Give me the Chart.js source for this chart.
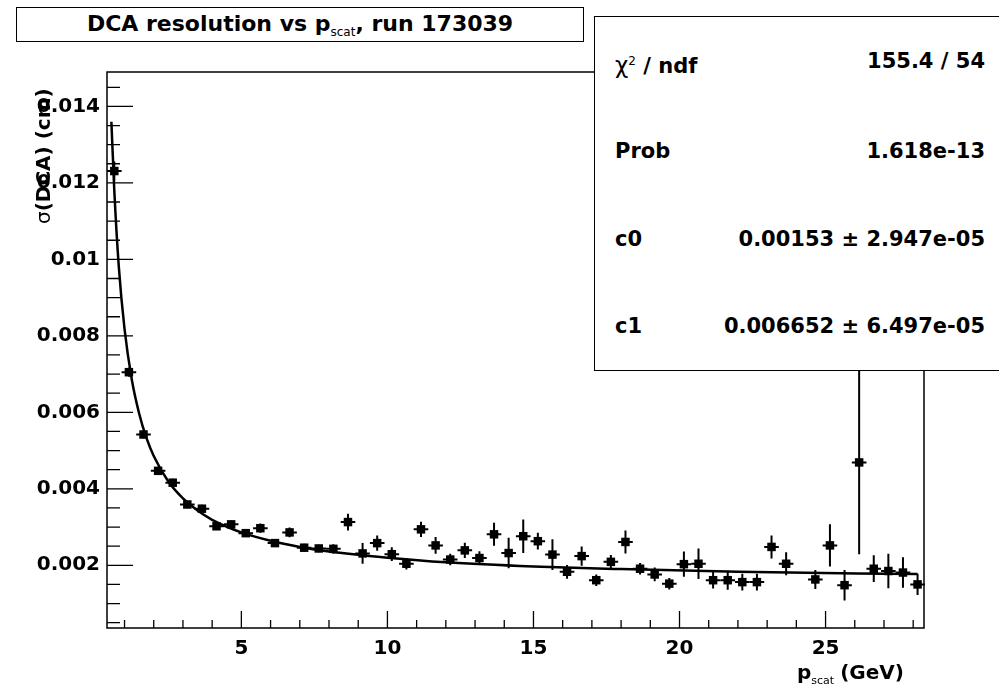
<!DOCTYPE html>
<html>
<head>
<meta charset="utf-8">
<script src="https://cdn.jsdelivr.net/npm/chart.js@4.4.1/dist/chart.umd.min.js"></script>
<style>
  body { margin: 0; background: #fff; }
  #wrap { position: relative; width: 999px; height: 687px; overflow: hidden; }
  #myChart { position: absolute; left: 0; top: 0; }
  .pave { position: absolute; background: #fff; border: 1.5px solid #000; box-sizing: border-box;
          font-family: "DejaVu Sans", sans-serif; font-weight: bold; color: #000; }
  #title { left: 16px; top: 7px; width: 568px; height: 35px; font-size: 22px; text-align: center; line-height: 31px; }
  #title sub { font-size: 12px; vertical-align: -5px; font-weight: normal; }
  #stats { left: 594px; top: 16px; width: 420px; height: 355px; font-size: 21px; }
  .row { position: absolute; left: 20px; width: 370px; height: 26px; line-height: 26px; }
  .row .v { position: absolute; right: 0; top: 0; }
  .row sup { font-size: 12px; vertical-align: 8px; font-weight: normal; }
  .chi { font-weight: normal; font-size: 23px; }
</style>
</head>
<body>
<div id="wrap">
  <canvas id="myChart" width="999" height="687"></canvas>
  <div class="pave" id="title">DCA resolution vs p<sub>scat</sub>, run 173039</div>
  <div class="pave" id="stats">
    <div class="row" style="top:31px"><span><span class="chi">&chi;</span><sup>2</sup> / ndf</span><span class="v">155.4 / 54</span></div>
    <div class="row" style="top:121px"><span>Prob</span><span class="v">1.618e-13</span></div>
    <div class="row" style="top:209px"><span>c0</span><span class="v">0.00153 &plusmn; 2.947e-05</span></div>
    <div class="row" style="top:296px"><span>c1</span><span class="v">0.006652 &plusmn; 6.497e-05</span></div>
  </div>
</div>
<script>
// bin centres (GeV) and measured DCA width (cm)
const pScat = [0.65, 1.15, 1.65, 2.15, 2.65, 3.15, 3.65, 4.15, 4.65, 5.15,
  5.65, 6.15, 6.65, 7.15, 7.65, 8.15, 8.65, 9.15, 9.65, 10.15,
  10.65, 11.15, 11.65, 12.15, 12.65, 13.15, 13.65, 14.15, 14.65, 15.15,
  15.65, 16.15, 16.65, 17.15, 17.65, 18.15, 18.65, 19.15, 19.65, 20.15,
  20.65, 21.15, 21.65, 22.15, 22.65, 23.15, 23.65, 24.15, 24.65, 25.15,
  25.65, 26.15, 26.65, 27.15, 27.65, 28.15];
const sigmaDca = [0.01231, 0.00705, 0.00542, 0.00447, 0.00416, 0.00359, 0.00348, 0.00302, 0.00307, 0.00284,
  0.00297, 0.00258, 0.00286, 0.00246, 0.00244, 0.00243, 0.00313, 0.00231, 0.00258, 0.00229,
  0.00204, 0.00294, 0.00252, 0.00215, 0.00239, 0.00219, 0.00281, 0.00232, 0.00276, 0.00263,
  0.00228, 0.00183, 0.00224, 0.00161, 0.00209, 0.00261, 0.00191, 0.00176, 0.00152, 0.00203,
  0.00204, 0.00161, 0.00161, 0.00156, 0.00156, 0.00248, 0.00204, null, 0.00163, 0.00252,
  0.00148, 0.00469, 0.00191, 0.00185, 0.00181, 0.00150];
const sigmaErr = [0.00025, 0.00012, 0.0001, 0.0001, 0.0001, 0.0001, 0.0001, 0.0001, 0.0001, 0.0001,
  0.00012, 0.0001, 0.00013, 0.0001, 0.0001, 0.00012, 0.00022, 0.00027, 0.0002, 0.00018,
  0.00015, 0.0002, 0.00022, 0.00015, 0.0002, 0.00018, 0.0003, 0.0004, 0.00044, 0.00022,
  0.0004, 0.00018, 0.00025, 0.00015, 0.00018, 0.0003, 0.00015, 0.00018, 0.00015, 0.00033,
  0.0004, 0.00022, 0.00025, 0.00022, 0.00022, 0.0003, 0.0003, null, 0.00025, 0.00055,
  0.0004, 0.0024, 0.00035, 0.00045, 0.0004, 0.00028];
const binHalfWidth = 0.25;

// fit curve
const fitP = [0.55, 0.65, 0.8, 1.0, 1.25, 1.5, 1.75, 2.0, 2.5, 3.0, 3.5, 4.0, 5.0, 6.0, 7.0, 8.0, 10, 12, 15, 18, 22, 28.15];
const fitSigma = [0.0136, 0.0118, 0.00985, 0.00818, 0.00685, 0.00597, 0.00533, 0.00486, 0.00419, 0.00375, 0.00343, 0.00319,
  0.00286, 0.00264, 0.00248, 0.00236, 0.0022, 0.00208, 0.00197, 0.0019, 0.00183, 0.00177];

const xTicks = [5, 10, 15, 20, 25];
const yTicks = [0.002, 0.004, 0.006, 0.008, 0.01, 0.012, 0.014];
const yTickLabels = ["0.002", "0.004", "0.006", "0.008", "0.01", "0.012", "0.014"];

const FONT = "DejaVu Sans";

const points = pScat.map((p, i) => ({ x: p, y: sigmaDca[i], e: sigmaErr[i] })).filter(d => d.y !== null);
const fitLine = fitP.map((p, i) => ({ x: p, y: fitSigma[i] }));

// ROOT style frame, inward ticks, error bars and axis titles
const rootFrame = {
  id: "rootFrame",
  beforeDatasetsDraw(chart) {
    const { ctx, scales: { x, y } } = chart;
    ctx.save();
    ctx.strokeStyle = "#000";
    ctx.lineWidth = 2;
    points.forEach(d => {
      const px = x.getPixelForValue(d.x), py = y.getPixelForValue(d.y);
      ctx.beginPath();
      ctx.moveTo(x.getPixelForValue(d.x - binHalfWidth), py);
      ctx.lineTo(x.getPixelForValue(d.x + binHalfWidth), py);
      ctx.moveTo(px, y.getPixelForValue(d.y + d.e));
      ctx.lineTo(px, y.getPixelForValue(d.y - d.e));
      ctx.stroke();
    });
    ctx.restore();
  },
  afterDraw(chart) {
    const { ctx, chartArea: a, scales: { x, y } } = chart;
    ctx.save();
    ctx.strokeStyle = "#000";
    ctx.lineWidth = 1.5;
    ctx.strokeRect(a.left, a.top, a.right - a.left, a.bottom - a.top);
    ctx.lineWidth = 1.3;
    ctx.beginPath();
    for (let v = 1; v <= 28; v++) {
      const px = x.getPixelForValue(v);
      const len = v % 5 === 0 ? 17 : 8;
      ctx.moveTo(px, a.bottom);
      ctx.lineTo(px, a.bottom - len);
    }
    for (let k = 1; k <= 29; k++) {
      const py = y.getPixelForValue(k * 0.0005);
      const len = k % 4 === 0 ? 26 : 13;
      ctx.moveTo(a.left, py);
      ctx.lineTo(a.left + len, py);
    }
    ctx.stroke();

    ctx.fillStyle = "#000";
    ctx.textBaseline = "alphabetic";
    // x title
    ctx.textAlign = "left";
    let tx = 797, ty = 679;
    ctx.font = "bold 20px '" + FONT + "'";
    ctx.fillText("p", tx, ty);
    tx += ctx.measureText("p").width;
    ctx.font = "11px '" + FONT + "'";
    ctx.fillText("scat", tx, ty + 5);
    tx += ctx.measureText("scat").width + 6;
    ctx.font = "bold 20px '" + FONT + "'";
    ctx.fillText("(GeV)", tx, ty);
    // y title
    ctx.translate(50, 224);
    ctx.rotate(-Math.PI / 2);
    ctx.font = "20px '" + FONT + "'";
    ctx.fillText("\u03c3", 0, 0);
    const w = ctx.measureText("\u03c3").width;
    ctx.font = "bold 20px '" + FONT + "'";
    ctx.fillText("(DCA) (cm)", w, 0);
    ctx.restore();
  }
};

const ctx = document.getElementById("myChart").getContext("2d");

new Chart(ctx, {
  type: "scatter",
  data: {
    datasets: [
      {
        type: "line",
        data: fitLine,
        borderColor: "#000",
        borderWidth: 2.5,
        pointRadius: 0,
        cubicInterpolationMode: "monotone",
        order: 2,
      },
      {
        data: points,
        backgroundColor: "#000",
        borderColor: "#000",
        pointStyle: "rect",
        pointRadius: 6,
        borderWidth: 0,
        order: 1,
      },
    ],
  },
  options: {
    responsive: false,
    animation: false,
    layout: { padding: { left: 0, top: 72, right: 75, bottom: 0 } },
    plugins: { legend: { display: false }, tooltip: { enabled: false } },
    scales: {
      x: {
        type: "linear",
        min: 0.4,
        max: 28.37,
        grid: { display: false, drawTicks: false },
        border: { display: false },
        afterBuildTicks: (s) => { s.ticks = xTicks.map(v => ({ value: v })); },
        afterFit: (s) => { s.height = 59; },
        ticks: {
          color: "#000",
          padding: 9,
          maxRotation: 0,
          font: { family: FONT, size: 20, weight: "bold" },
          callback: (v) => String(v),
        },
      },
      y: {
        type: "linear",
        min: 0.00036,
        max: 0.0149,
        grid: { display: false, drawTicks: false },
        border: { display: false },
        afterBuildTicks: (s) => { s.ticks = yTicks.map(v => ({ value: v })); },
        afterFit: (s) => { s.width = 107; },
        ticks: {
          color: "#000",
          padding: 7,
          font: { family: FONT, size: 20, weight: "bold" },
          callback: (v, i) => yTickLabels[i],
        },
      },
    },
  },
  plugins: [rootFrame],
});
</script>
</body>
</html>
